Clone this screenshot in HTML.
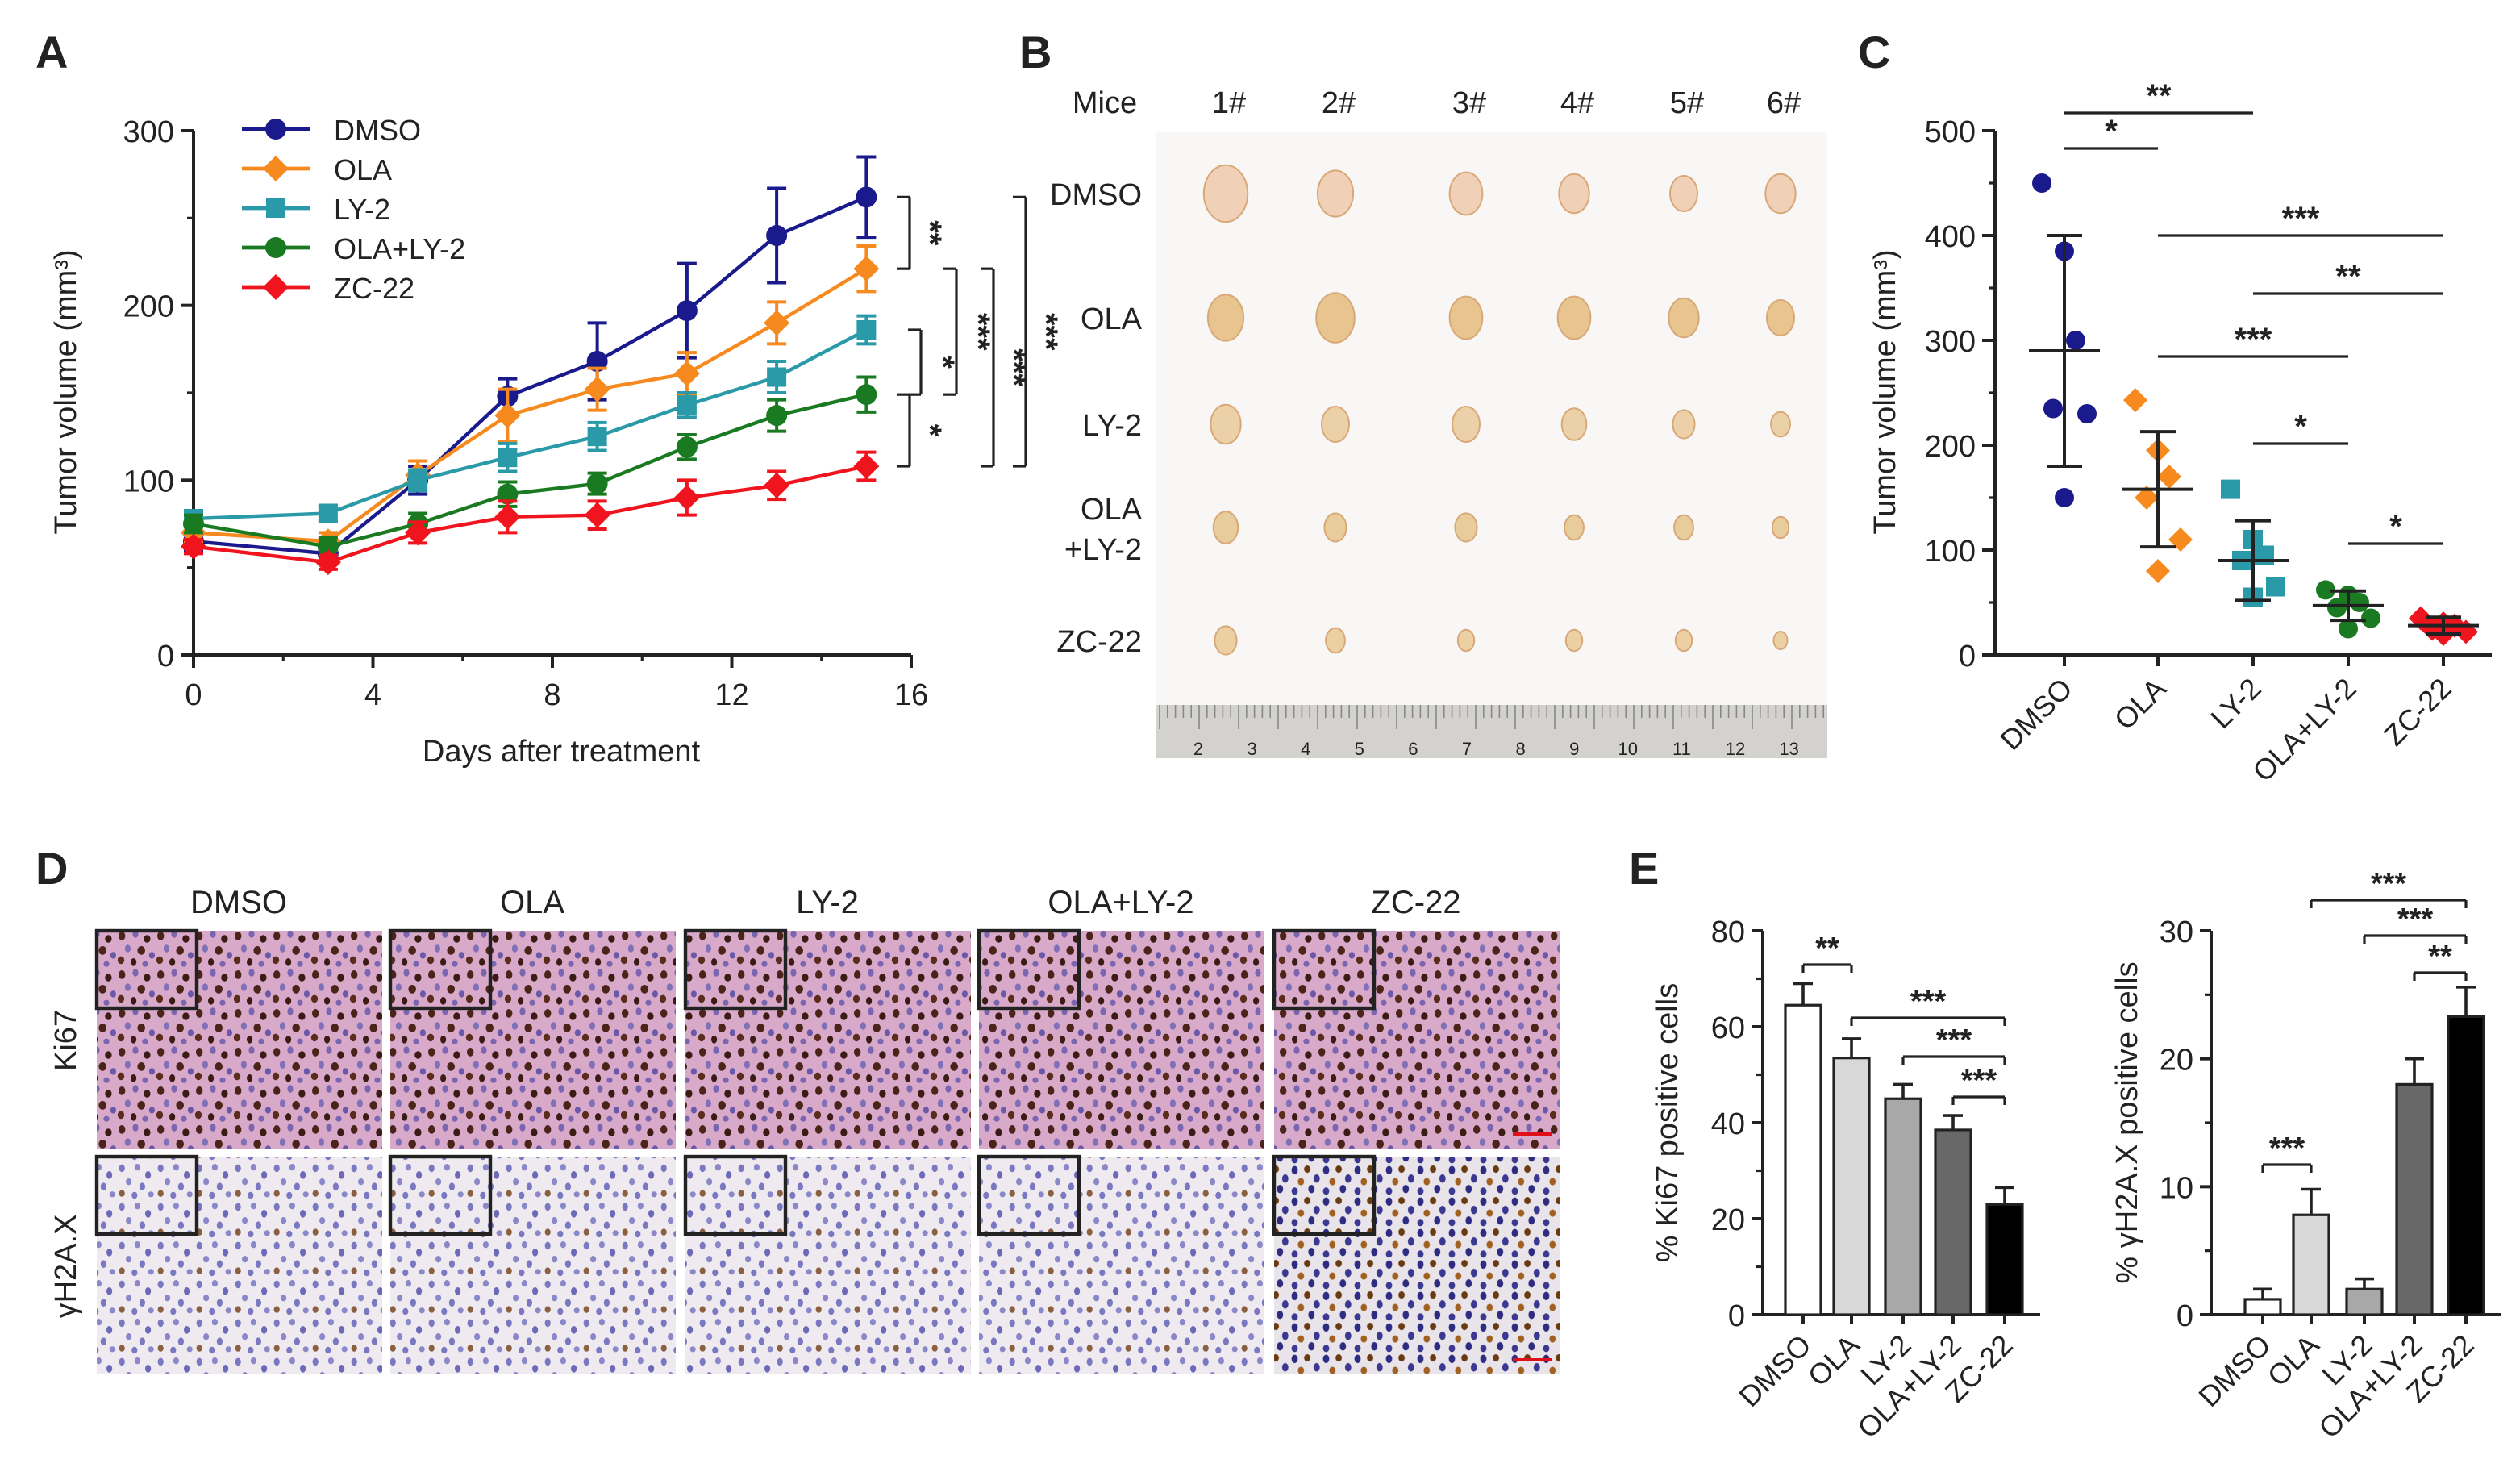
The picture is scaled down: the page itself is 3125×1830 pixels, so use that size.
<!DOCTYPE html>
<html><head><meta charset="utf-8">
<style>
html,body{margin:0;padding:0;background:#fff;}
svg{display:block;font-family:"Liberation Sans",Arial,sans-serif;}
</style></head>
<body>
<svg id="fig" width="3125" height="1830" viewBox="0 0 1562.5 915" xmlns="http://www.w3.org/2000/svg">
<defs>
<pattern id="ki67" width="40" height="40" patternUnits="userSpaceOnUse" patternTransform="scale(0.6)">
<rect width="40" height="40" fill="#d9a9c9"/>
<ellipse cx="6" cy="7" rx="3.5" ry="4.5" fill="#4a2418"/><ellipse cx="20" cy="5" rx="3" ry="4" fill="#7a66b0"/>
<ellipse cx="32" cy="10" rx="3.5" ry="4" fill="#3a1c14"/><ellipse cx="12" cy="20" rx="3" ry="4" fill="#8070b8"/>
<ellipse cx="26" cy="22" rx="4" ry="4.5" fill="#4a2418"/><ellipse cx="37" cy="27" rx="3" ry="3.5" fill="#6a58a8"/>
<ellipse cx="5" cy="32" rx="3.5" ry="4" fill="#5a2c1c"/><ellipse cx="18" cy="34" rx="3" ry="4" fill="#3a1c14"/>
<ellipse cx="30" cy="36" rx="3" ry="3" fill="#7a66b0"/>
</pattern>
<pattern id="h2ax" width="40" height="40" patternUnits="userSpaceOnUse" patternTransform="scale(0.6)">
<rect width="40" height="40" fill="#eeeaf0"/>
<ellipse cx="6" cy="7" rx="3" ry="4" fill="#7a78c0"/><ellipse cx="22" cy="6" rx="3" ry="3.5" fill="#8a88c8"/>
<ellipse cx="33" cy="14" rx="3" ry="4" fill="#6c6ab8"/><ellipse cx="13" cy="21" rx="3" ry="3.5" fill="#8a88c8"/>
<ellipse cx="27" cy="26" rx="3" ry="4" fill="#7a78c0"/><ellipse cx="6" cy="33" rx="3" ry="3.5" fill="#8a6040"/>
<ellipse cx="19" cy="35" rx="3" ry="3.5" fill="#7a78c0"/><ellipse cx="36" cy="34" rx="3" ry="3" fill="#8a88c8"/>
</pattern>
<pattern id="h2axz" width="30" height="30" patternUnits="userSpaceOnUse" patternTransform="scale(0.65)">
<rect width="30" height="30" fill="#e8e4ea"/>
<ellipse cx="5" cy="6" rx="3" ry="4" fill="#2e2c80"/><ellipse cx="17" cy="5" rx="3" ry="3.5" fill="#6a3a10"/>
<ellipse cx="26" cy="14" rx="3" ry="4" fill="#3a3890"/><ellipse cx="11" cy="17" rx="3" ry="3.5" fill="#a06020"/>
<ellipse cx="21" cy="24" rx="3" ry="4" fill="#2e2c80"/><ellipse cx="5" cy="26" rx="3" ry="3.5" fill="#3a3890"/>
</pattern>
</defs>
</svg>
<script>
const NS='http://www.w3.org/2000/svg';
const svg=document.getElementById('fig');
function mk(tag,attrs,parent,text){const e=document.createElementNS(NS,tag);for(const k in attrs)e.setAttribute(k,attrs[k]);if(text!==undefined)e.textContent=text;(parent||svg).appendChild(e);return e;}
function line(x1,y1,x2,y2,w,c,p){return mk('line',{x1,y1,x2,y2,stroke:c||'#222','stroke-width':w||1.6},p);}
function txt(x,y,s,size,anchor,p,extra){const a=Object.assign({x,y,'font-size':size,'text-anchor':anchor||'middle',fill:'#222'},extra||{});return mk('text',a,p,s);}

// ===== Panel A data =====
const aDays=[0,3,5,7,9,11,13,15];
const aSeriesNames=['DMSO','OLA','LY-2','OLA+LY-2','ZC-22'];
const aColors=['#1a1a8c','#f78a1e','#2a9aa8','#1a7a22','#f0141e'];
const aDMSO=[65,58,100,148,168,197,240,262];
const aOLA=[70,65,103,137,152,161,190,221];
const aLY2=[78,81,100,113,125,143,159,186];
const aCombo=[75,62,75,92,98,119,137,149];
const aZC=[62,53,70,79,80,90,97,108];
const aErrDMSO=[5,5,8,10,22,27,27,23];
const aErrOLA=[5,5,8,15,12,12,12,13];
const aErrLY2=[4,4,6,8,8,7,9,8];
const aErrCombo=[5,5,6,7,6,7,9,10];
const aErrZC=[4,4,6,9,8,10,8,8];
const aYTicks=[0,100,200,300];
const aXTicks=[0,4,8,12,16];

// ===== Panel C data =====
const cCats=['DMSO','OLA','LY-2','OLA+LY-2','ZC-22'];
const cPoints=[[450,385,300,235,230,150],[243,195,170,150,110,80],[158,110,95,90,65,55],[62,57,50,45,35,25],[35,30,28,25,22,20]];
const cMeans=[290,158,90,47,28];
const cSD=[110,55,38,14,8];
const cYTicks=[0,100,200,300,400,500];

// ===== Panel E data =====
const eCats=['DMSO','OLA','LY-2','OLA+LY-2','ZC-22'];
const eKi67=[64.5,53.5,45,38.5,23];
const eKi67Err=[4.5,4,3,3,3.5];
const eH2AX=[1.2,7.8,2,18,23.3];
const eH2AXErr=[0.8,2,0.8,2,2.3];
const eKiTicks=[0,20,40,60,80];
const eHTicks=[0,10,20,30];
const eFills=['#ffffff','#d8d8d8','#a8a8a8','#686868','#000000'];

[['A',22,42],['B',632,42],['C',1152,42],['D',22,548],['E',1010,548]].forEach(([s,x,y])=>{
  const t=txt(x,y,s,28,'start',null,{'font-weight':'bold'});
  
  
});

// ===== Panel A =====
(function(){
  const g=mk('g',{});
  const x0=120,x1=565,y0=406,y1=81;
  const X=d=>x0+(d/16)*(x1-x0), Y=v=>y0-(v/300)*(y0-y1);
  const ax=line(x0,y1,x0,y0,2,'#222',g);
  const bx=line(x0,y0,x1,y0,2,'#222',g);
  aYTicks.forEach(v=>{line(x0-8,Y(v),x0,Y(v),2,'#222',g);txt(x0-12,Y(v)+7,String(v),19,'end',g);});
  [50,150,250].forEach(v=>line(x0-4,Y(v),x0,Y(v),1.6,'#222',g));
  aXTicks.forEach(v=>{line(X(v),y0,X(v),y0+8,2,'#222',g);txt(X(v),y0+31,String(v),19,'middle',g);});
  [2,6,10,14].forEach(v=>line(X(v),y0,X(v),y0+4,1.6,'#222',g));
  const xt=txt(348,472,'Days after treatment',19,'middle',g);
  const yt=txt(0,0,'Tumor volume (mm³)',19,'middle',g,{transform:'translate(47,243) rotate(-90)'});
  const all=[aDMSO,aOLA,aLY2,aCombo,aZC], errs=[aErrDMSO,aErrOLA,aErrLY2,aErrCombo,aErrZC];
  all.forEach((s,i)=>{
    const c=aColors[i];
    const sg=mk('g',{},g);
    s.forEach((v,j)=>{const x=X(aDays[j]);line(x,Y(v-errs[i][j]),x,Y(v+errs[i][j]),2,c,sg);line(x-6,Y(v+errs[i][j]),x+6,Y(v+errs[i][j]),2,c,sg);line(x-6,Y(v-errs[i][j]),x+6,Y(v-errs[i][j]),2,c,sg);});
    mk('polyline',{points:s.map((v,j)=>X(aDays[j])+','+Y(v)).join(' '),fill:'none',stroke:c,'stroke-width':2.2},sg);
    s.forEach((v,j)=>marker(X(aDays[j]),Y(v),i,sg));
  });
  function marker(x,y,i,p){const c=aColors[i];
    if(i===0||i===3)mk('circle',{cx:x,cy:y,r:6.5,fill:c},p);
    else if(i===2)mk('rect',{x:x-6,y:y-6,width:12,height:12,fill:c},p);
    else mk('polygon',{points:`${x},${y-8} ${x+8},${y} ${x},${y+8} ${x-8},${y}`,fill:c},p);}
  const lg=mk('g',{},g);
  aSeriesNames.forEach((n,i)=>{const y=80+i*24.5;const eg=mk('g',{},lg);
    line(150,y,192,y,2.4,aColors[i],eg);marker(171,y,i,eg);txt(207,y+7,n,18,'start',eg);});
  function br(x,ya,yb,label,lx){line(x,Y(ya),x+8,Y(ya),1.6,'#222',g);line(x+8,Y(ya),x+8,Y(yb),1.6,'#222',g);line(x,Y(yb),x+8,Y(yb),1.6,'#222',g);
    txt(0,0,label,20,'middle',g,{transform:`translate(${lx},${(Y(ya)+Y(yb))/2}) rotate(90)`,'font-weight':'bold'});}
  br(556,262,221,'**',570);br(563,186,149,'*',578);br(556,149,108,'*',570);
  br(585,221,149,'***',600);br(608,221,108,'***',622);br(628,262,108,'***',642);
})();

// ===== Panel B (photo) =====
(function(){
  const g=mk('g',{});
  mk('rect',{x:717,y:82,width:416,height:388,fill:'#f8f7f6'},g);
  mk('rect',{x:717,y:437,width:416,height:33,fill:'#d4d2cf'},g);
  for(let i=0;i<=84;i++){const x=719+i*4.9;line(x,437,x,i%5===0?452:445,0.8,'#888',g);}
  [2,3,4,5,6,7,8,9,10,11,12,13].forEach((n,i)=>txt(743+i*33.3,468,String(n),11,'middle',g));
  const cols=[762,830,911,978,1046,1106];
  txt(685,70,'Mice',19,'middle',g);
  cols.forEach((x,i)=>txt(x,70,(i+1)+'#',19,'middle',g));
  const rows=[[120,'DMSO'],[197,'OLA'],[263,'LY-2'],[327,''],[397,'ZC-22']];
  rows.forEach(([y,n])=>{if(n)txt(708,y+7,n,19,'end',g);});
  txt(708,322,'OLA',19,'end',g);txt(708,347,'+LY-2',19,'end',g);
  const sizes=[[16,13,12,11,10,11],[13,14,12,12,11,10],[11,10,10,9,8,7],[9,8,8,7,7,6],[8,7,6,6,6,5]];
  const fills=['#f1d0b8','#e8c48e','#ecd0a8','#e8cc9c','#ecd0a4'];
  rows.forEach(([y],r)=>cols.forEach((x,c)=>{const s=sizes[r][c];mk('ellipse',{cx:x-2,cy:y,rx:s*0.85,ry:s*1.1,fill:fills[r],stroke:'#d9a878','stroke-width':1},g);}));
})();

// ===== Panel C =====
(function(){
  const g=mk('g',{});
  const x0=1237,y0=406,y1=81;const Y=v=>y0-(v/500)*(y0-y1);
  const cx=[1280,1338,1397,1456,1515];
  const a=line(x0,y1,x0,y0,2,'#222',g);
  line(x0,y0,1545,y0,2,'#222',g);
  cYTicks.forEach(v=>{line(x0-8,Y(v),x0,Y(v),2,'#222',g);txt(x0-12,Y(v)+7,String(v),19,'end',g);});
  [50,150,250,350,450].forEach(v=>line(x0-4,Y(v),x0,Y(v),1.6,'#222',g));
  txt(0,0,'Tumor volume (mm³)',19,'middle',g,{transform:'translate(1175,243) rotate(-90)'});
  const offs=[-14,0,7,-7,14,0];
  cCats.forEach((n,i)=>{
    line(cx[i],y0,cx[i],y0+7,2,'#222',g);
    txt(0,0,n,18,'end',g,{transform:`translate(${cx[i]+6},${y0+22}) rotate(-45)`});
    const c=aColors[i];const sg=mk('g',{},g);
    cPoints[i].forEach((v,j)=>{const x=cx[i]+offs[j],y=Y(v);
      if(i===0||i===3)mk('circle',{cx:x,cy:y,r:6,fill:c},sg);
      else if(i===2)mk('rect',{x:x-6,y:y-6,width:12,height:12,fill:c},sg);
      else mk('polygon',{points:`${x},${y-7.5} ${x+7.5},${y} ${x},${y+7.5} ${x-7.5},${y}`,fill:c},sg);});
    line(cx[i]-22,Y(cMeans[i]),cx[i]+22,Y(cMeans[i]),2,'#222',g);
    line(cx[i],Y(cMeans[i]-cSD[i]),cx[i],Y(cMeans[i]+cSD[i]),2,'#222',g);
    line(cx[i]-11,Y(cMeans[i]+cSD[i]),cx[i]+11,Y(cMeans[i]+cSD[i]),2,'#222',g);
    line(cx[i]-11,Y(cMeans[i]-cSD[i]),cx[i]+11,Y(cMeans[i]-cSD[i]),2,'#222',g);
  });
  [[1280,1338,92,'*'],[1280,1397,70,'**'],[1338,1515,146,'***'],[1397,1515,182,'**'],[1338,1456,221,'***'],[1397,1456,275,'*'],[1456,1515,337,'*']].forEach(([a,b,y,l])=>{line(a,y,b,y,1.6,'#222',g);txt((a+b)/2,y-4,l,20,'middle',g,{'font-weight':'bold'});});
})();

// ===== Panel D =====
(function(){
  const g=mk('g',{});
  const cols=[60,242,425,607,790],names=['DMSO','OLA','LY-2','OLA+LY-2','ZC-22'];
  cols.forEach((x,i)=>{txt(x+88,566,names[i],20,'middle',g);
    mk('rect',{x,y:577,width:177,height:135,fill:'url(#ki67)'},g);
    mk('rect',{x,y:717,width:177,height:135,fill:i===4?'url(#h2axz)':'url(#h2ax)'},g);
    mk('rect',{x,y:577,width:62,height:48,fill:'url(#ki67)',stroke:'#222','stroke-width':2.2},g);
    mk('rect',{x,y:717,width:62,height:48,fill:i===4?'url(#h2axz)':'url(#h2ax)',stroke:'#222','stroke-width':2.2},g);
  });
  line(938,703,962,703,2,'#e0101a',g);line(938,843,962,843,2,'#e0101a',g);
  txt(0,0,'Ki67',19,'middle',g,{transform:'translate(47,645) rotate(-90)'});
  txt(0,0,'γH2A.X',19,'middle',g,{transform:'translate(47,785) rotate(-90)'});
})();

// ===== Panel E =====
function barChart(name,x0,ymax,ticks,vals,errs,bx,title,titleX,sigs){
  const g=mk('g',{});
  const y0=815,y1=577;const Y=v=>y0-(v/ymax)*(y0-y1);
  line(x0,y1,x0,y0,2,'#222',g);line(x0,y0,bx[4]+22,y0,2,'#222',g);
  ticks.forEach(v=>{line(x0-7,Y(v),x0,Y(v),2,'#222',g);txt(x0-11,Y(v)+7,String(v),19,'end',g);});
  for(let k=0;k<ticks.length-1;k++){const v=(ticks[k]+ticks[k+1])/2;line(x0-4,Y(v),x0,Y(v),1.6,'#222',g);}
  txt(0,0,title,19,'middle',g,{transform:`translate(${titleX},696) rotate(-90)`});
  eCats.forEach((n,i)=>{
    const b=mk('rect',{x:bx[i]-11,y:Y(vals[i]),width:22,height:y0-Y(vals[i]),fill:eFills[i],stroke:'#222','stroke-width':1.6},g);
    
    line(bx[i],Y(vals[i]),bx[i],Y(vals[i]+errs[i]),1.8,'#222',g);line(bx[i]-6,Y(vals[i]+errs[i]),bx[i]+6,Y(vals[i]+errs[i]),1.8,'#222',g);
    line(bx[i],y0,bx[i],y0+6,2,'#222',g);
    txt(0,0,n,18,'end',g,{transform:`translate(${bx[i]+6},${y0+20}) rotate(-45)`});
  });
  sigs.forEach(([a,b,y,l])=>{line(bx[a],y,bx[b],y,1.6,'#222',g);line(bx[a],y,bx[a],y+5,1.6,'#222',g);line(bx[b],y,bx[b],y+5,1.6,'#222',g);txt((bx[a]+bx[b])/2,y-4,l,19,'middle',g,{'font-weight':'bold'});});
}
barChart('panel-e-ki67-bar-chart',1093,80,eKiTicks,eKi67,eKi67Err,[1118,1148,1180,1211,1243],'% Ki67 positive cells',1040,
  [[0,1,598,'**'],[1,4,631,'***'],[2,4,655,'***'],[3,4,680,'***']]);
barChart('panel-e-h2ax-bar-chart',1371,30,eHTicks,eH2AX,eH2AXErr,[1403,1433,1466,1497,1529],'% γH2A.X positive cells',1325,
  [[0,1,722,'***'],[1,4,558,'***'],[2,4,580,'***'],[3,4,603,'**']]);
</script>
</body></html>
